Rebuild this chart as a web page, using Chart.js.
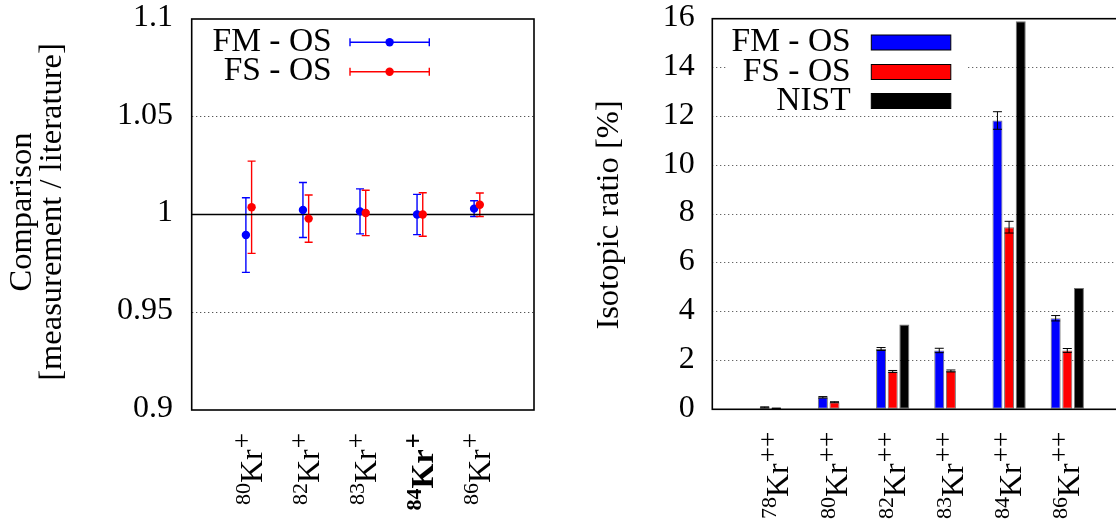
<!DOCTYPE html>
<html><head><meta charset="utf-8">
<script src="https://cdn.jsdelivr.net/npm/chart.js@4.4.1/dist/chart.umd.min.js"></script>
<style>
html,body{margin:0;padding:0;background:#fff;overflow:hidden;width:1116px;height:524px;position:relative;}
#wl{position:absolute;left:0;top:0;width:560px;height:524px;}
#wr{position:absolute;left:560px;top:0;width:600px;height:524px;}
canvas{display:block;}
</style></head><body>
<div id="wl"><canvas id="cl" width="560" height="524" style="width:560px;height:524px"></canvas></div>
<div id="wr"><canvas id="cr" width="600" height="524" style="width:600px;height:524px"></canvas></div>
<script>
// ---------- Left panel data ----------
const leftMass = ['80', '82', '83', '84', '86'];
const leftCharge = '+';
const leftBold = [false, false, false, true, false];
const fmRatio    = [0.9895, 1.0023, 1.0016, 1.0000, 1.0030];
const fmRatioErr = [0.0191, 0.0141, 0.0115, 0.0103, 0.0040];
const fsRatio    = [1.0037, 0.9979, 1.0008, 1.0000, 1.0050];
const fsRatioErr = [0.0236, 0.0121, 0.0116, 0.0111, 0.0060];
const leftYTicks = [0.9, 0.95, 1, 1.05, 1.1];
const leftGridValues = [0.95, 1.05];
const referenceRatio = 1;

// ---------- Right panel data ----------
const rightMass = ['78', '80', '82', '83', '84', '86'];
const rightCharge = '++';
const fmIso    = [0.08, 0.49, 2.47, 2.41, 11.83, 3.73];
const fmIsoErr = [0.02, 0.03, 0.06, 0.09, 0.36, 0.11];
const fsIso    = [0.04, 0.29, 1.55, 1.57, 7.46, 2.41];
const fsIsoErr = [0.01, 0.02, 0.04, 0.04, 0.24, 0.08];
const nistIso  = [null, null, 3.47, null, 15.9, 4.97];
const rightYTicks = [0, 2, 4, 6, 8, 10, 12, 14, 16];
const rightGridValues = [2, 4, 6, 8, 10, 12, 14];

const elementName = 'Kr';
const seriesNames = ['FM - OS', 'FS - OS', 'NIST'];
const leftTitle = ['Comparison', '[measurement / literature]'];
const rightTitle = 'Isotopic ratio [%]';

// ---------- styling ----------
const FONT = '"Liberation Serif", "DejaVu Serif", serif';
const TICK = 32, LEG = 33.5, TITLE = 32.5, BIG = 32, SMALL = 22, CHARGE = 27;
const BLUE = '#0000ff', RED = '#ff0000', BLACK = '#000000';

function fixedTicks(values) {
  return function (scale) { scale.ticks = values.map(v => ({ value: v })); };
}

function drawIsoLabel(ctx, x, y, mass, el, charge, bold) {
  ctx.save();
  ctx.translate(x, y);
  ctx.rotate(-Math.PI / 2);
  const w = bold ? 'bold ' : '';
  const big = w + BIG + 'px ' + FONT, small = w + SMALL + 'px ' + FONT, chg = w + CHARGE + 'px ' + FONT;
  ctx.font = small;
  const wm = ctx.measureText(mass).width;
  ctx.font = chg;
  const wc = ctx.measureText(charge).width;
  ctx.font = big;
  const we = ctx.measureText(el).width;
  let cx = -(wm + we + wc + 1);
  ctx.fillStyle = '#000';
  ctx.textAlign = 'left';
  ctx.textBaseline = 'alphabetic';
  ctx.font = small; ctx.fillText(mass, cx, -12); cx += wm;
  ctx.font = big; ctx.fillText(el, cx, 0); cx += we + 1;
  ctx.font = chg; ctx.fillText(charge, cx, -11);
  ctx.restore();
}

function drawRotTitle(ctx, text, bx, cy) {
  ctx.save();
  ctx.translate(bx, cy);
  ctx.rotate(-Math.PI / 2);
  ctx.font = TITLE + 'px ' + FONT;
  ctx.fillStyle = '#000';
  ctx.textAlign = 'center';
  ctx.textBaseline = 'alphabetic';
  ctx.fillText(text, 0, 0);
  ctx.restore();
}

function drawErrorBars(chart, cfg) {
  const ctx = chart.ctx;
  const ys = chart.scales.y;
  chart.data.datasets.forEach((ds, di) => {
    if (!ds.errors) return;
    const meta = chart.getDatasetMeta(di);
    ctx.save();
    ctx.strokeStyle = cfg.color || ds.borderColor || ds.backgroundColor;
    ctx.lineWidth = cfg.lineWidth;
    meta.data.forEach((elm, i) => {
      const raw = ds.data[i];
      const v = (raw && typeof raw === 'object') ? raw.y : raw;
      const e = ds.errors[i];
      if (v === null || v === undefined || e === null || e === undefined) return;
      const x = elm.x;
      const yt = ys.getPixelForValue(v + e), yb = ys.getPixelForValue(v - e);
      ctx.beginPath();
      ctx.moveTo(x, yt); ctx.lineTo(x, yb);
      ctx.moveTo(x - cfg.cap, yt); ctx.lineTo(x + cfg.cap, yt);
      ctx.moveTo(x - cfg.cap, yb); ctx.lineTo(x + cfg.cap, yb);
      ctx.stroke();
    });
    ctx.restore();
  });
}

function drawFrame(chart) {
  const a = chart.chartArea, ctx = chart.ctx;
  ctx.save();
  ctx.strokeStyle = '#000';
  ctx.lineWidth = 1.6;
  ctx.strokeRect(a.left, a.top, a.right - a.left, a.bottom - a.top);
  ctx.restore();
}

function fitY(width) {
  return function (s) { s.width = width; s.paddingTop = 0; s.paddingBottom = 0; };
}

// ---------- Left chart ----------
const leftPlugin = {
  id: 'leftDecor',
  beforeDatasetsDraw(chart) {
    drawErrorBars(chart, { lineWidth: 1.4, cap: 4 });
  },
  afterDatasetsDraw(chart) { drawFrame(chart); },
  afterDraw(chart) {
    const ctx = chart.ctx, xs = chart.scales.x, a = chart.chartArea;
    leftMass.forEach((m, i) => {
      drawIsoLabel(ctx, xs.getPixelForValue(i + 1) + 13, a.bottom + 23, m, elementName, leftCharge, leftBold[i]);
    });
    drawRotTitle(ctx, leftTitle[0], 31, 212);
    drawRotTitle(ctx, leftTitle[1], 61, 212);
    const rows = [42.3, 71.7];
    [0, 1].forEach(k => {
      const ds = chart.data.datasets[k];
      const y = rows[k];
      ctx.save();
      ctx.font = LEG + 'px ' + FONT;
      ctx.fillStyle = '#000';
      ctx.textAlign = 'right';
      ctx.textBaseline = 'alphabetic';
      ctx.fillText(ds.label, 331.7, y + 8.6);
      ctx.strokeStyle = ds.borderColor;
      ctx.lineWidth = 1.4;
      ctx.beginPath();
      ctx.moveTo(350, y); ctx.lineTo(429.3, y);
      ctx.moveTo(350, y - 4); ctx.lineTo(350, y + 4);
      ctx.moveTo(429.3, y - 4); ctx.lineTo(429.3, y + 4);
      ctx.stroke();
      ctx.fillStyle = ds.backgroundColor;
      ctx.beginPath(); ctx.arc(389.6, y, 4.2, 0, Math.PI * 2); ctx.fill();
      ctx.restore();
    });
  }
};

const leftCanvas = document.getElementById('cl');
new Chart(leftCanvas, {
  type: 'scatter',
  data: {
    datasets: [
      {
        label: seriesNames[0],
        data: fmRatio.map((v, i) => ({ x: i + 1 - 0.05, y: v })),
        errors: fmRatioErr,
        backgroundColor: BLUE, borderColor: BLUE,
        pointRadius: 4.2, pointBorderWidth: 0, order: 2
      },
      {
        label: seriesNames[1],
        data: fsRatio.map((v, i) => ({ x: i + 1 + 0.05, y: v })),
        errors: fsRatioErr,
        backgroundColor: RED, borderColor: RED,
        pointRadius: 4.2, pointBorderWidth: 0, order: 1
      },
      {
        type: 'line',
        label: 'reference',
        data: [{ x: 0, y: referenceRatio }, { x: leftMass.length + 1, y: referenceRatio }],
        borderColor: '#000', borderWidth: 1.3, pointRadius: 0, order: 10
      }
    ]
  },
  options: {
    responsive: false,
    animation: false,
    devicePixelRatio: 1,
    layout: { padding: { top: 19, right: 26, left: 0, bottom: 0 } },
    plugins: { legend: { display: false }, tooltip: { enabled: false } },
    scales: {
      x: {
        type: 'linear', min: 0, max: leftMass.length + 1, offset: false,
        ticks: { display: false },
        grid: { display: false },
        border: { display: false },
        afterFit(s) { s.height = 114; s.paddingLeft = 0; s.paddingRight = 0; }
      },
      y: {
        min: leftYTicks[0], max: leftYTicks[leftYTicks.length - 1],
        afterBuildTicks: fixedTicks(leftYTicks),
        ticks: {
          color: '#000', padding: 18.7, labelOffset: -1.5,
          font: { family: FONT, size: TICK, lineHeight: 1 },
          callback: v => String(v)
        },
        grid: {
          drawTicks: false, lineWidth: 1,
          color: c => leftGridValues.includes(c.tick && c.tick.value) ? '#555' : 'rgba(0,0,0,0)'
        },
        border: { display: false, dash: [1.3, 2.7] },
        afterFit: fitY(191.7)
      }
    }
  },
  plugins: [leftPlugin]
});

// ---------- Right chart ----------
const rightPlugin = {
  id: 'rightDecor',
  beforeDatasetsDraw(chart) {
    const ctx = chart.ctx;
    ctx.save();
    ctx.fillStyle = '#fff';
    ctx.fillRect(168, 20, 240, 92);
    ctx.restore();
  },
  afterDatasetsDraw(chart) {
    drawErrorBars(chart, { lineWidth: 1, cap: 4.5, color: '#000' });
    drawFrame(chart);
  },
  afterDraw(chart) {
    const ctx = chart.ctx, xs = chart.scales.x, a = chart.chartArea;
    rightMass.forEach((m, i) => {
      drawIsoLabel(ctx, xs.getPixelForValue(i) + 12, a.bottom + 22.5, m, elementName, rightCharge, false);
    });
    drawRotTitle(ctx, rightTitle, 57.7, 215);
    const rows = [42.5, 72, 101];
    chart.data.datasets.forEach((ds, k) => {
      const y = rows[k];
      ctx.save();
      ctx.font = LEG + 'px ' + FONT;
      ctx.fillStyle = '#000';
      ctx.textAlign = 'right';
      ctx.textBaseline = 'alphabetic';
      ctx.fillText(ds.label, 290.7, y + 8.6);
      ctx.fillStyle = ds.backgroundColor;
      ctx.fillRect(311.3, y - 7.5, 79.5, 15);
      ctx.strokeStyle = '#000';
      ctx.lineWidth = 1;
      ctx.strokeRect(311.3, y - 7.5, 79.5, 15);
      ctx.restore();
    });
  }
};

function barData(values) {
  return values.map((v, i) => ({ x: i, y: v }));
}

const rightCanvas = document.getElementById('cr');
new Chart(rightCanvas, {
  type: 'bar',
  data: {
    datasets: [
      { label: seriesNames[0], data: barData(fmIso), errors: fmIsoErr, backgroundColor: BLUE },
      { label: seriesNames[1], data: barData(fsIso), errors: fsIsoErr, backgroundColor: RED },
      { label: seriesNames[2], data: barData(nistIso), backgroundColor: BLACK }
    ]
  },
  options: {
    responsive: false,
    animation: false,
    devicePixelRatio: 1,
    layout: { padding: { top: 18.7, right: 28.7, left: 0, bottom: 0 } },
    datasets: {
      bar: {
        categoryPercentage: 0.6, barPercentage: 0.86,
        borderWidth: 1, borderColor: 'rgba(0,0,0,0.55)', borderSkipped: false
      }
    },
    plugins: { legend: { display: false }, tooltip: { enabled: false } },
    scales: {
      x: {
        type: 'linear', min: -1.1, max: rightMass.length - 1 + 1.1, offset: false,
        afterBuildTicks: fixedTicks(rightMass.map((m, i) => i)),
        ticks: { display: false },
        grid: { display: false, offset: false },
        border: { display: false },
        afterFit(s) { s.height = 114.7; s.paddingLeft = 0; s.paddingRight = 0; }
      },
      y: {
        min: rightYTicks[0], max: rightYTicks[rightYTicks.length - 1],
        afterBuildTicks: fixedTicks(rightYTicks),
        ticks: {
          color: '#000', padding: 17.5, labelOffset: -1,
          font: { family: FONT, size: TICK, lineHeight: 1 },
          callback: v => String(v)
        },
        grid: {
          drawTicks: false, lineWidth: 1,
          color: c => rightGridValues.includes(c.tick && c.tick.value) ? '#666' : 'rgba(0,0,0,0)'
        },
        border: { display: false, dash: [1.3, 2.7] },
        afterFit: fitY(152.3)
      }
    }
  },
  plugins: [rightPlugin]
});
</script>
</body></html>
